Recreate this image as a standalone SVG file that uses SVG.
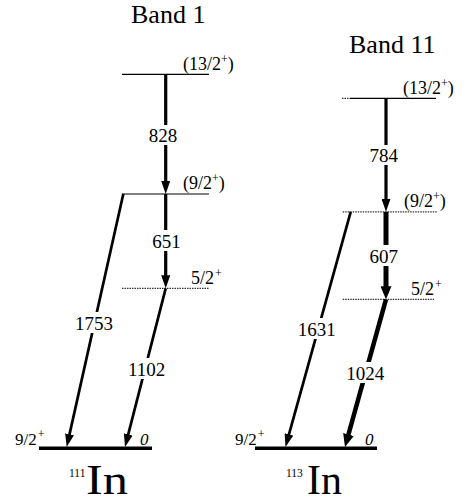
<svg xmlns="http://www.w3.org/2000/svg" width="471" height="503" viewBox="0 0 471 503">
<style>
text{font-family:"Liberation Serif","DejaVu Serif",serif;fill:#000}
.title{font-size:26px}
.lvl{font-size:18px}
.sup{font-size:12px}
.tr{font-size:19px;text-anchor:middle}
.gs{font-size:17px}
.zero{font-size:17px;font-style:italic}
.iso{font-size:42px}
.isoA{font-size:11.5px}
.line{stroke:#000;stroke-width:1.2;fill:none}
.dot{stroke:#333;stroke-width:1.3;stroke-dasharray:1.5 1;fill:none}
.gnd{stroke:#000;stroke-width:3.5;fill:none}
.arr{stroke:#000;fill:none;stroke-linecap:butt;marker-end:url(#ah)}
.arrB{stroke:#000;fill:none;stroke-linecap:butt;marker-end:url(#ahB)}
.bg{fill:#fff}
</style>
<defs>
<marker id="ah" markerUnits="userSpaceOnUse" markerWidth="13" markerHeight="9" refX="7" refY="4.5" orient="auto" viewBox="0 0 13 9">
<path d="M0,0 L13,4.5 L0,9 Z" fill="#000"/>
</marker>
<marker id="ahB" markerUnits="userSpaceOnUse" markerWidth="13" markerHeight="11" refX="7" refY="5.5" orient="auto" viewBox="0 0 13 11">
<path d="M0,0 L13,5.5 L0,11 Z" fill="#000"/>
</marker>
</defs>

<g id="titles">
<text class="title" x="131" y="23">Band 1</text>
<text class="title" x="349" y="53">Band 11</text>
</g>

<!-- 111In levels -->
<g id="In111-l13">
<line class="line" x1="122" y1="74.3" x2="209" y2="74.3"/>
<text class="lvl" x="183" y="69.5">(13/2<tspan class="sup" dy="-7">+</tspan><tspan dy="7">)</tspan></text>
</g>
<g id="In111-l9">
<line class="line" x1="122" y1="194" x2="209" y2="194"/>
<text class="lvl" x="183" y="189">(9/2<tspan class="sup" dy="-7">+</tspan><tspan dy="7">)</tspan></text>
</g>
<g id="In111-l5">
<line class="dot" x1="122" y1="288.3" x2="209" y2="288.3"/>
<text class="lvl" x="191" y="283.5">5/2<tspan class="sup" dx="1" dy="-7">+</tspan></text>
</g>
<g id="In111-g">
<line class="gnd" x1="39" y1="448.3" x2="152" y2="448.3"/>
<text class="gs" x="15" y="445">9/2<tspan class="sup" dx="1" dy="-7">+</tspan></text>
<text class="zero" x="140" y="445">0</text>
<text class="isoA" x="69" y="477">111</text>
<text class="iso" x="86" y="494" textLength="42" lengthAdjust="spacingAndGlyphs">In</text>
</g>

<!-- 113In levels -->
<g id="In113-l13">
<line class="dot" x1="342" y1="98.3" x2="350" y2="98.3"/>
<line class="line" x1="350" y1="98.3" x2="436" y2="98.3"/>
<text class="lvl" x="403" y="93.5">(13/2<tspan class="sup" dy="-7">+</tspan><tspan dy="7">)</tspan></text>
</g>
<g id="In113-l9">
<line class="dot" x1="342.7" y1="211.8" x2="436.7" y2="211.8"/>
<text class="lvl" x="404" y="207">(9/2<tspan class="sup" dy="-7">+</tspan><tspan dy="7">)</tspan></text>
</g>
<g id="In113-l5">
<line class="dot" x1="342.7" y1="299.3" x2="434" y2="299.3"/>
<text class="lvl" x="411" y="295">5/2<tspan class="sup" dx="1" dy="-7">+</tspan></text>
</g>
<g id="In113-g">
<line class="gnd" x1="255" y1="448.3" x2="377" y2="448.3"/>
<text class="gs" x="235" y="445">9/2<tspan class="sup" dx="1" dy="-7">+</tspan></text>
<text class="zero" x="365" y="445">0</text>
<text class="isoA" x="286" y="477">113</text>
<text class="iso" x="307" y="494" textLength="35" lengthAdjust="spacingAndGlyphs">In</text>
</g>

<g id="connectors">
<line class="arr" stroke-width="3.2" x1="165.7" y1="74.3" x2="165.7" y2="188"/>
<line class="arr" stroke-width="3.2" x1="165.7" y1="194" x2="165.7" y2="282.3"/>
<line class="arr" stroke-width="2.7" x1="123.3" y1="194" x2="68" y2="441.1"/>
<line class="arr" stroke-width="2.7" x1="165.7" y1="288.3" x2="126.5" y2="441.2"/>
<line class="arr" stroke-width="3.2" x1="386" y1="98.3" x2="386" y2="205.8"/>
<line class="arrB" stroke-width="5" x1="386" y1="211.8" x2="386" y2="293.3"/>
<line class="arr" stroke-width="2.7" x1="350.7" y1="211.8" x2="287.1" y2="441.2"/>
<line class="arrB" stroke-width="4.5" x1="386" y1="299.3" x2="346.6" y2="441.2"/>
</g>

<g id="labels">
<rect class="bg" x="147" y="125" width="32" height="20"/>
<text class="tr" x="163" y="141.7">828</text>
<rect class="bg" x="150" y="230" width="33" height="21"/>
<text class="tr" x="166.5" y="248">651</text>
<rect class="bg" x="74" y="312" width="40" height="21"/>
<text class="tr" x="94" y="330">1753</text>
<rect class="bg" x="127" y="358" width="40" height="21"/>
<text class="tr" x="146.7" y="376">1102</text>
<rect class="bg" x="368" y="145" width="32" height="20"/>
<text class="tr" x="383.8" y="161.7">784</text>
<rect class="bg" x="368" y="245" width="32" height="21"/>
<text class="tr" x="383.8" y="262.7">607</text>
<rect class="bg" x="297" y="318" width="40" height="21"/>
<text class="tr" x="316.7" y="336">1631</text>
<rect class="bg" x="345" y="362" width="41" height="21"/>
<text class="tr" x="365.3" y="380">1024</text>
</g>
</svg>
